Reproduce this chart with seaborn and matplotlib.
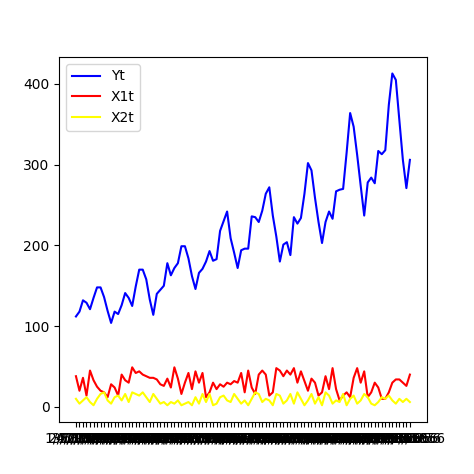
import matplotlib
matplotlib.use('Agg')
import matplotlib.pyplot as plt
import seaborn as sns

dates = [f"{m}/1/{y}" for y in range(1949, 1957) for m in range(1, 13)]
yt = [112, 118, 132, 129, 121, 135, 148, 148, 136, 119, 104, 118,
      115, 126, 141, 135, 125, 149, 170, 170, 158, 133, 114, 140,
      145, 150, 178, 163, 172, 178, 199, 199, 184, 162, 146, 166,
      171, 180, 193, 181, 183, 218, 230, 242, 209, 191, 172, 194,
      196, 196, 236, 235, 229, 243, 264, 272, 237, 211, 180, 201,
      204, 188, 235, 227, 234, 264, 302, 293, 259, 229, 203, 229,
      242, 233, 267, 269, 270, 315, 364, 347, 312, 274, 237, 278,
      284, 277, 317, 313, 318, 374, 413, 405, 355, 306, 271, 306]
x1t = [38, 20, 36, 14, 45, 33, 25, 20, 18, 12, 28, 24, 14, 40, 33, 30, 49, 42, 44, 40, 38, 36, 36, 34,
       28, 26, 35, 24, 49, 35, 16, 30, 42, 22, 44, 30, 42, 12, 18, 30, 22, 28, 25, 30, 28, 32, 30, 42,
       18, 45, 24, 16, 40, 45, 40, 14, 18, 48, 45, 38, 45, 40, 48, 30, 44, 32, 20, 35, 30, 14, 18, 38,
       22, 48, 22, 8, 14, 18, 12, 36, 48, 30, 44, 12, 18, 30, 24, 10, 10, 18, 30, 34, 34, 30, 26, 40]
x2t = [10, 4, 8, 12, 6, 2, 10, 16, 18, 8, 4, 12, 14, 8, 16, 6, 18, 16, 14, 18, 12, 6, 16, 10,
       4, 6, 2, 6, 4, 8, 2, 4, 6, 2, 12, 4, 16, 6, 16, 2, 4, 12, 14, 8, 6, 16, 10, 4,
       8, 2, 10, 18, 16, 6, 10, 8, 2, 16, 14, 4, 8, 16, 4, 18, 10, 2, 8, 16, 4, 12, 2, 18,
       14, 4, 8, 6, 16, 2, 10, 14, 4, 8, 16, 12, 4, 2, 6, 12, 10, 14, 8, 4, 10, 6, 10, 6]

fig, ax = plt.subplots(figsize=(4.74, 4.74), dpi=100)
sns.lineplot(x=dates, y=yt, color='blue', label='Yt', ax=ax, sort=False)
sns.lineplot(x=dates, y=x1t, color='red', label='X1t', ax=ax, sort=False)
sns.lineplot(x=dates, y=x2t, color='yellow', label='X2t', ax=ax, sort=False)
ax.legend(loc='upper left')
fig.savefig('out.png', dpi=100)
